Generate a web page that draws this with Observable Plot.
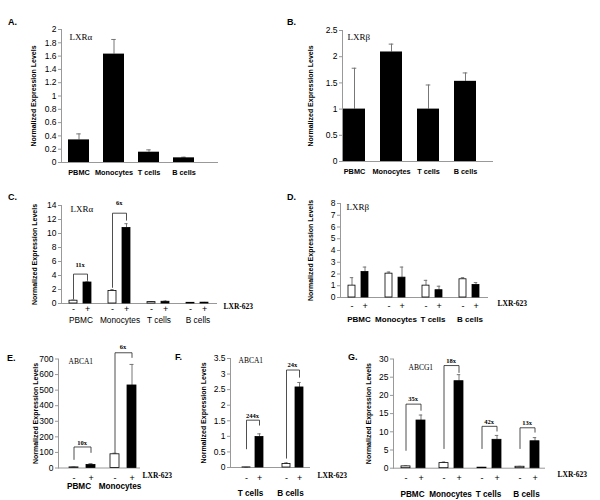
<!DOCTYPE html>
<html>
<head>
<meta charset="utf-8">
<script src="https://cdn.jsdelivr.net/npm/d3@7"></script>
<script src="https://cdn.jsdelivr.net/npm/@observablehq/plot@0.6"></script>
<style>
  body { margin: 0; background: #fff; }
  #fig { position: relative; width: 600px; height: 500px; overflow: hidden; background: #fff; }
  .panel { position: absolute; }
  .letter { position: absolute; font: bold 9px "Liberation Sans", Arial, sans-serif; color: #000; }
</style>
</head>
<body>
<div id="fig"></div>
<script>
// ---------------- data ----------------
const cells = ["PBMC", "Monocytes", "T cells", "B cells"];
const cellsE = ["PBMC", "Monocytes"];
const cellsF = ["T cells", "B cells"];
const treatments = ["-", "+"];
const yTitle = "Normalized Expression Levels";
const drugLabel = "LXR-623";

// A. LXRα baseline
const aMean = [0.34, 1.63, 0.155, 0.07];
const aErr  = [0.43, 1.85, 0.19, 0.08];
const aTicks = [0, 0.2, 0.4, 0.6, 0.8, 1, 1.2, 1.4, 1.6, 1.8, 2];

// B. LXRβ baseline
const bMean = [1.0, 2.09, 1.0, 1.53];
const bErr  = [1.78, 2.24, 1.46, 1.69];
const bTicks = [0, 0.5, 1, 1.5, 2, 2.5];

// C. LXRα with LXR-623
const cMinus    = [0.4, 1.8, 0.2, 0.1];
const cMinusErr = [0.5, 2.0, 0.25, 0.12];
const cPlus     = [3.0, 10.8, 0.25, 0.12];
const cPlusErr  = [3.1, 11.4, 0.35, 0.15];
const cTicks = [0, 2, 4, 6, 8, 10, 12, 14];
const cFoldCells = ["PBMC", "Monocytes"];
const cFoldLabels = ["11x", "6x"];
const cBracketLow = [0.7, 2.3];
const cBracketTop = [4.2, 12.9];
const cBracketHigh = [3.3, 11.9];
const cFoldY = [5.5, 14.3];

// D. LXRβ with LXR-623
const dMinus    = [1.01, 2.03, 1.01, 1.55];
const dMinusErr = [1.69, 2.17, 1.46, 1.69];
const dPlus     = [2.17, 1.69, 0.62, 1.07];
const dPlusErr  = [2.59, 2.59, 0.96, 1.27];
const dTicks = [0, 1, 2, 3, 4, 5, 6, 7, 8];

// E. ABCA1 (PBMC, monocytes)
const eMinus    = [4, 88];
const eMinusErr = [6, 95];
const ePlus     = [20, 530];
const ePlusErr  = [28, 665];
const eTicks = [0, 100, 200, 300, 400, 500, 600, 700];
const eFoldCells = ["PBMC", "Monocytes"];
const eFoldLabels = ["10x", "6x"];
const eBracketLow = [55, 100];
const eBracketTop = [135, 740];
const eBracketHigh = [100, 710];
const eFoldY = [160, 775];

// F. ABCA1 (T cells, B cells)
const fMinus    = [0.004, 0.11];
const fMinusErr = [0.004, 0.15];
const fPlus     = [0.98, 2.57];
const fPlusErr  = [1.08, 2.73];
const fTicks = [0, 0.5, 1, 1.5, 2, 2.5, 3, 3.5];
const fFoldCells = ["T cells", "B cells"];
const fFoldLabels = ["244x", "24x"];
const fBracketLow = [0.6, 0.3];
const fBracketTop = [1.52, 3.13];
const fBracketHigh = [1.36, 2.9];
const fFoldY = [1.66, 3.28];

// G. ABCG1
const gMinus    = [0.5, 1.4, 0.15, 0.4];
const gMinusErr = [0.6, 1.7, 0.2, 0.5];
const gPlus     = [13.1, 23.9, 7.8, 7.4];
const gPlusErr  = [14.6, 25.7, 9.0, 8.4];
const gTicks = [0, 5, 10, 15, 20, 25, 30];
const gFoldCells = ["PBMC", "Monocytes", "T cells", "B cells"];
const gFoldLabels = ["35x", "18x", "42x", "13x"];
const gBracketLow = [4.9, 5.4, 5.4, 5.4];
const gBracketTop = [17.6, 28.2, 11.5, 11.1];
const gBracketHigh = [15.9, 26.3, 10.2, 9.9];
const gFoldY = [19.0, 29.5, 12.8, 12.4];

// ---------------- helpers ----------------
const SANS = "'Liberation Sans', Arial, Helvetica, sans-serif";
const SERIF = "'Liberation Serif', 'Times New Roman', serif";
const fmt = d3.format("~g");
const fig = document.getElementById("fig");

function place(node, left, top) {
  const wrap = document.createElement("div");
  wrap.className = "panel";
  wrap.style.left = left + "px";
  wrap.style.top = top + "px";
  wrap.appendChild(node);
  fig.appendChild(wrap);
}
function letter(t, left, top) {
  const d = document.createElement("div");
  d.className = "letter";
  d.textContent = t;
  d.style.left = left + "px";
  d.style.top = top + "px";
  fig.appendChild(d);
}

function yAxes(p) {
  return [
    Plot.axisY({ticks: p.ticks, tickFormat: fmt, tickSize: 3, tickPadding: 2, fontSize: 8.5, label: null, stroke: "#999"}),
    Plot.axisY({ticks: [], tickSize: 0, label: yTitle, labelAnchor: "center", labelArrow: false,
                labelOffset: p.lo, fontSize: 7, fontWeight: "bold"})
  ];
}

function simplePanel(p) {
  const rows = p.cells.map((c, i) => ({cell: c, v: p.mean[i], e: p.err[i]}));
  const step = (p.xRange[1] - p.xRange[0]) / (p.cells.length - p.pi);
  const bw = step * (1 - p.pi);
  const ins = (bw - 5) / 2;
  return Plot.plot({
    width: p.w, height: p.h,
    marginLeft: p.ml, marginRight: p.mr, marginTop: p.mt, marginBottom: p.mb,
    style: {background: "none", fontFamily: SANS, overflow: "visible", color: "#000"},
    x: {domain: p.cells, range: p.xRange, paddingInner: p.pi, paddingOuter: 0, align: 0},
    y: {domain: p.yDomain},
    marks: [
      Plot.ruleY([0], {stroke: "#999"}),
      Plot.frame({anchor: "left", stroke: "#999"}),
      Plot.ruleX(rows, {x: "cell", y1: "v", y2: "e", stroke: "#777"}),
      Plot.tickY(rows, {x: "cell", y: "e", stroke: "#777", insetLeft: ins, insetRight: ins}),
      Plot.barY(rows, {x: "cell", y: "v", fill: "black"}),
      ...yAxes(p),
      Plot.axisX({tickSize: 0, tickPadding: p.xp, fontSize: 7.3, fontWeight: "bold", label: null}),
      Plot.text([p.gene], {text: d => d, frameAnchor: "top-left", textAnchor: "start",
                           dx: p.gdx, dy: p.gdy, fontFamily: SERIF, fontSize: 9})
    ]
  });
}

function groupedPanel(p) {
  const rows = [];
  p.cells.forEach((c, i) => {
    rows.push({cell: c, trt: "-", v: p.minus[i], e: p.minusErr[i]});
    rows.push({cell: c, trt: "+", v: p.plus[i], e: p.plusErr[i]});
  });
  const brk = [];
  const folds = [];
  (p.foldCells || []).forEach((c, i) => {
    brk.push({cell: c, trt: "-", y: p.low[i]}, {cell: c, trt: "-", y: p.top[i]},
             {cell: c, trt: "+", y: p.top[i]}, {cell: c, trt: "+", y: p.high[i]});
    folds.push({cell: c, trt: "+", y: p.foldY[i], t: p.foldLabels[i]});
  });
  const fw = (p.w - p.ml - p.mr) / p.cells.length;
  const step = fw / (2 - p.pi + 2 * p.po);
  const bw = step * (1 - p.pi);
  const ins = Math.max(0, (bw - 4) / 2);
  return Plot.plot({
    width: p.w, height: p.h,
    marginLeft: p.ml, marginRight: p.mr, marginTop: p.mt, marginBottom: p.mb,
    style: {background: "none", fontFamily: SANS, overflow: "visible", color: "#000"},
    fx: {domain: p.cells, padding: 0, label: null},
    x: {domain: treatments, paddingInner: p.pi, paddingOuter: p.po, align: p.align},
    y: {domain: p.yDomain},
    marks: [
      Plot.ruleY([0], {stroke: "#999"}),
      Plot.frame({anchor: "left", facetAnchor: "left", stroke: "#999"}),
      Plot.ruleX(rows, {fx: "cell", x: "trt", y1: "v", y2: "e", stroke: "#777"}),
      Plot.tickY(rows, {fx: "cell", x: "trt", y: "e", stroke: "#777", insetLeft: ins, insetRight: ins}),
      Plot.barY(rows, {fx: "cell", x: "trt", y: "v", fill: d => d.trt === "+" ? "black" : "white",
                       stroke: "black", strokeWidth: 0.8}),
      Plot.line(brk, {fx: "cell", x: "trt", y: "y", z: "cell", stroke: "#222", strokeWidth: 0.8}),
      Plot.text(folds, {fx: "cell", x: "trt", y: "y", text: "t", dx: -step / 2,
                        fontFamily: SERIF, fontWeight: "bold", fontSize: 6.5}),
      ...yAxes(p),
      Plot.axisX({tickSize: 0, tickPadding: p.sp, fontSize: 9, label: null}),
      Plot.axisFx({anchor: "bottom", tickSize: 0, tickPadding: p.cp, fontSize: p.cfs,
                   fontWeight: p.cfw, label: null}),
      Plot.text([{cell: p.cells[0], t: p.gene}], {fx: "cell", text: "t", frameAnchor: "top-left",
                 textAnchor: "start", dx: p.gdx, dy: p.gdy, fontFamily: SERIF, fontSize: p.gfs}),
      Plot.text([{cell: p.cells[p.cells.length - 1], t: drugLabel}], {fx: "cell", text: "t",
                 frameAnchor: "bottom-right", textAnchor: "start", dx: p.ddx, dy: p.ddy,
                 fontFamily: SERIF, fontWeight: "bold", fontSize: 7.5})
    ]
  });
}

// ---------------- panels ----------------
place(simplePanel({
  cells, mean: aMean, err: aErr, ticks: aTicks, yDomain: [0, 2], gene: "LXRα",
  w: 300, h: 190, ml: 61, mr: 82, mt: 29, mb: 28, xRange: [68, 195.4], pi: 0.39,
  lo: 30.5, xp: 7, gdx: 8, gdy: 4
}), 0, 0);

place(simplePanel({
  cells, mean: bMean, err: bErr, ticks: bTicks, yDomain: [0, 2.5], gene: "LXRβ",
  w: 300, h: 190, ml: 42, mr: 107, mt: 30, mb: 29, xRange: [43, 177.3], pi: 0.4,
  lo: 34.5, xp: 7.5, gdx: 5, gdy: 3
}), 300, 0);

place(groupedPanel({
  cells, minus: cMinus, minusErr: cMinusErr, plus: cPlus, plusErr: cPlusErr,
  ticks: cTicks, yDomain: [0, 14], gene: "LXRα", gfs: 9,
  foldCells: cFoldCells, foldLabels: cFoldLabels, low: cBracketLow, top: cBracketTop,
  high: cBracketHigh, foldY: cFoldY,
  w: 300, h: 150, ml: 60, mr: 83, mt: 25, mb: 27, pi: 0.4, po: 0.533, align: 0.5,
  lo: 29.5, sp: 2, cp: 14, cfs: 8.3, cfw: "normal", gdx: 9, gdy: 0, ddx: 6, ddy: 5
}), 0, 180);

place(groupedPanel({
  cells, minus: dMinus, minusErr: dMinusErr, plus: dPlus, plusErr: dPlusErr,
  ticks: dTicks, yDomain: [0, 8], gene: "LXRβ", gfs: 9,
  w: 300, h: 150, ml: 39, mr: 112, mt: 23, mb: 33, pi: 0.46, po: 0.56, align: 0.5,
  lo: 32.5, sp: 4.8, cp: 19, cfs: 8, cfw: "bold", gdx: 6, gdy: 0, ddx: 9, ddy: 8
}), 300, 180);

place(groupedPanel({
  cells: cellsE, minus: eMinus, minusErr: eMinusErr, plus: ePlus, plusErr: ePlusErr,
  ticks: eTicks, yDomain: [0, 700], gene: "ABCA1", gfs: 7.5,
  foldCells: eFoldCells, foldLabels: eFoldLabels, low: eBracketLow, top: eBracketTop,
  high: eBracketHigh, foldY: eFoldY,
  w: 200, h: 160, ml: 58, mr: 60, mt: 18.5, mb: 32.5, pi: 0.5, po: 0.389, align: 0.73,
  lo: 25.5, sp: 6.3, cp: 15.5, cfs: 8.2, cfw: "bold", gdx: 10, gdy: 0, ddx: 2, ddy: 10
}), 0, 340);

place(groupedPanel({
  cells: cellsF, minus: fMinus, minusErr: fMinusErr, plus: fPlus, plusErr: fPlusErr,
  ticks: fTicks, yDomain: [0, 3.5], gene: "ABCA1", gfs: 7.5,
  foldCells: fFoldCells, foldLabels: fFoldLabels, low: fBracketLow, top: fBracketTop,
  high: fBracketHigh, foldY: fFoldY,
  w: 200, h: 160, ml: 54, mr: 65, mt: 18, mb: 33, pi: 0.39, po: 0.64, align: 0.65,
  lo: 29.5, sp: 6.8, cp: 23, cfs: 8.2, cfw: "bold", gdx: 8, gdy: -1, ddx: 7, ddy: 10
}), 175, 340);

place(groupedPanel({
  cells, minus: gMinus, minusErr: gMinusErr, plus: gPlus, plusErr: gPlusErr,
  ticks: gTicks, yDomain: [0, 30], gene: "ABCG1", gfs: 7.5,
  foldCells: gFoldCells, foldLabels: gFoldLabels, low: gBracketLow, top: gBracketTop,
  high: gBracketHigh, foldY: gFoldY,
  w: 260, h: 160, ml: 53, mr: 55, mt: 18.5, mb: 32.3, pi: 0.39, po: 0.41, align: 0.55,
  lo: 27.5, sp: 6.3, cp: 22.5, cfs: 8.2, cfw: "bold", gdx: 15, gdy: 5.5, ddx: 12, ddy: 9
}), 340, 340);

letter("A.", 8, 17);
letter("B.", 287, 17);
letter("C.", 8, 192);
letter("D.", 287, 192);
letter("E.", 7, 353);
letter("F.", 175, 352);
letter("G.", 348, 352);
</script>
</body>
</html>
